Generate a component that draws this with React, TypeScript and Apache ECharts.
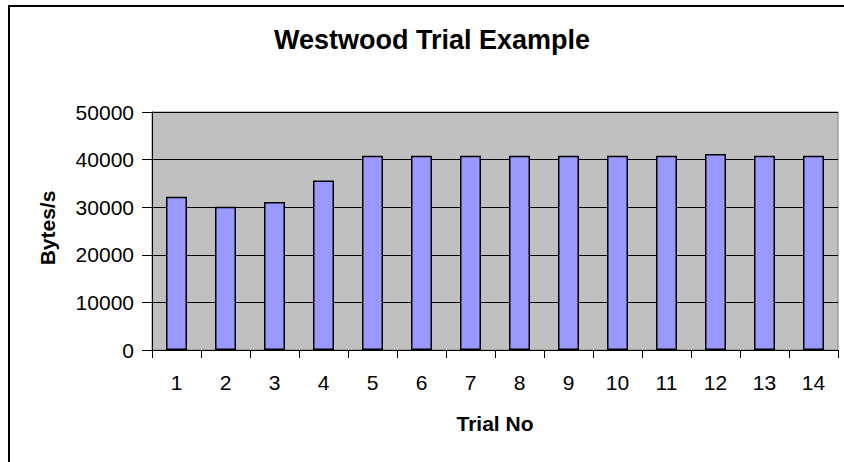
import React, { useEffect, useRef } from "react";
import * as echarts from "echarts";

const categories = ["1", "2", "3", "4", "5", "6", "7", "8", "9", "10", "11", "12", "13", "14"];
const bytesPerSecond = [32200, 30100, 31100, 35600, 40800, 40800, 40800, 40800, 40800, 40800, 40800, 41200, 40800, 40800];
const yTicks = [0, 10000, 20000, 30000, 40000, 50000];
const titleText = "Westwood Trial Example";
const xName = "Trial No";
const yName = "Bytes/s";

const FONT = "'Liberation Sans', Arial, sans-serif";

export default function App() {
  const ref = useRef<HTMLDivElement>(null);
  useEffect(() => {
    if (!ref.current) return;
    const chart = echarts.init(ref.current, null, { renderer: "svg" });
    chart.setOption({
      animation: false,
      backgroundColor: "#ffffff",
      graphic: [
        {
          type: "rect",
          shape: { x: 9, y: 6, width: 900, height: 500 },
          style: { fill: "none", stroke: "#000", lineWidth: 2 },
          z: 10,
        },
        {
          type: "text",
          x: 432,
          y: 40,
          style: {
            text: titleText,
            font: `bold 27px ${FONT}`,
            fill: "#000",
            align: "center",
            verticalAlign: "middle",
          },
        },
        {
          type: "text",
          x: 495,
          y: 423,
          style: {
            text: xName,
            font: `bold 21px ${FONT}`,
            fill: "#000",
            align: "center",
            verticalAlign: "middle",
          },
        },
        {
          type: "text",
          x: 47,
          y: 228,
          rotation: Math.PI / 2,
          style: {
            text: yName,
            font: `bold 21px ${FONT}`,
            fill: "#000",
            align: "center",
            verticalAlign: "middle",
          },
        },
      ],
      grid: {
        left: 152,
        top: 112,
        width: 686,
        height: 238,
        show: true,
        backgroundColor: "#C0C0C0",
        borderColor: "#808080",
        borderWidth: 1,
      },
      xAxis: {
        type: "category",
        data: categories,
        boundaryGap: true,
        axisLine: { show: true, lineStyle: { color: "#000", width: 1 } },
        axisTick: { show: true, inside: false, length: 8, alignWithLabel: false, lineStyle: { color: "#000" } },
        axisLabel: { color: "#000", fontFamily: FONT, fontSize: 21, margin: 22 },
        splitLine: { show: false },
      },
      yAxis: {
        type: "value",
        min: yTicks[0],
        max: yTicks[yTicks.length - 1],
        interval: 10000,
        axisLine: { show: true, lineStyle: { color: "#000", width: 1 } },
        axisTick: { show: true, inside: false, length: 10, lineStyle: { color: "#000" } },
        axisLabel: {
          color: "#000",
          fontFamily: FONT,
          fontSize: 21,
          margin: 18,
          formatter: (v: number) => String(v),
        },
        splitLine: { show: true, lineStyle: { color: "#000", width: 1 } },
      },
      series: [
        {
          type: "bar",
          data: bytesPerSecond,
          barWidth: 21,
          itemStyle: { color: "#9999FF", borderColor: "#000", borderWidth: 1.5 },
        },
      ],
    });
    return () => chart.dispose();
  }, []);
  return (
    <div
      ref={ref}
      style={{ position: "fixed", left: 0, top: 0, width: 844, height: 462 }}
    />
  );
}
